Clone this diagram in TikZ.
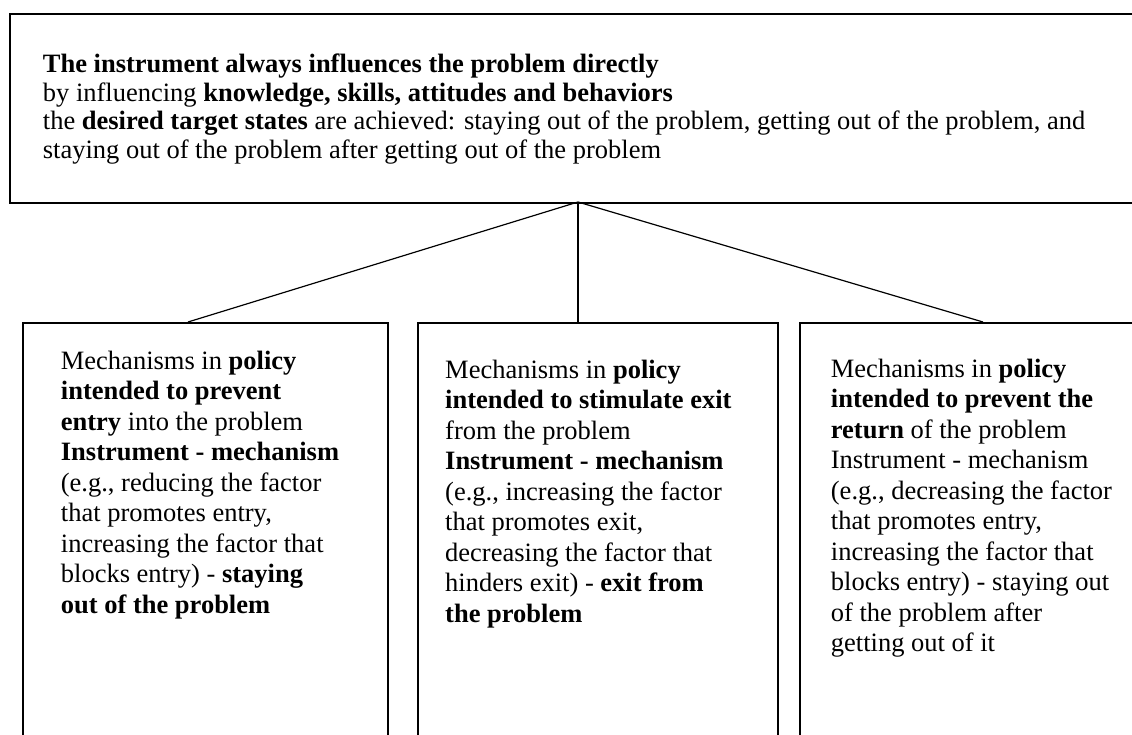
\documentclass[tikz,border=0pt]{standalone}
\usepackage{fontspec}
\setmainfont{Liberation Serif}

\begin{document}
\begin{tikzpicture}[x=1pt,y=-1pt,
  box/.style={draw=black,line width=2pt,anchor=north west,inner sep=0pt},
  txt/.style={anchor=base west,align=left,inner sep=0pt,font=\fontsize{26.5}{30.5}\selectfont},
  link/.style={line width=1.2pt}]
%
\useasboundingbox (0,0) rectangle (1132,735);
\clip (0,0) rectangle (1132,735);
%
\node[box,minimum width=1140pt,minimum height=189pt] (head) at (9,13) {};
\node[box,minimum width=365pt,minimum height=440pt] (prevent) at (22,322) {};
\node[box,minimum width=360pt,minimum height=440pt] (exit) at (417,322) {};
\node[box,minimum width=360pt,minimum height=440pt] (return) at (799,322) {};
%
\coordinate (hub) at (578,202);
\coordinate (preventtop) at (188,322);
\coordinate (returntop) at (983,322);
\draw[link] (hub) -- (preventtop);
\draw[link] (hub) -- (hub |- exit.north);
\draw[link] (hub) -- (returntop);
%
% base anchor = baseline of the last line
\node[txt,font=\fontsize{26.5}{28.5}\selectfont] (headtxt) at (42.7,158.2) {\textbf{The instrument always influences the problem directly}\\
by influencing \textbf{knowledge, skills, attitudes and behaviors}\\
the \textbf{desired target states} are achieved: staying out of the problem, getting out of the problem, and\\
staying out of the problem after getting out of the problem};
%
\node[txt] (preventtxt) at (60.7,613) {Mechanisms in \textbf{policy}\\
\textbf{intended to prevent}\\
\textbf{entry} into the problem\\
\textbf{Instrument - mechanism}\\
(e.g., reducing the factor\\
that promotes entry,\\
increasing the factor that\\
blocks entry) - \textbf{staying}\\
\textbf{out of the problem}};
%
\node[txt] (exittxt) at (445,622) {Mechanisms in \textbf{policy}\\
\textbf{intended to stimulate exit}\\
from the problem\\
\textbf{Instrument - mechanism}\\
(e.g., increasing the factor\\
that promotes exit,\\
decreasing the factor that\\
hinders exit) - \textbf{exit from}\\
\textbf{the problem}};
%
\node[txt] (returntxt) at (830.7,651.5) {Mechanisms in \textbf{policy}\\
\textbf{intended to prevent the}\\
\textbf{return} of the problem\\
Instrument - mechanism\\
(e.g., decreasing the factor\\
that promotes entry,\\
increasing the factor that\\
blocks entry) - staying out\\
of the problem after\\
getting out of it};
\end{tikzpicture}
\end{document}
